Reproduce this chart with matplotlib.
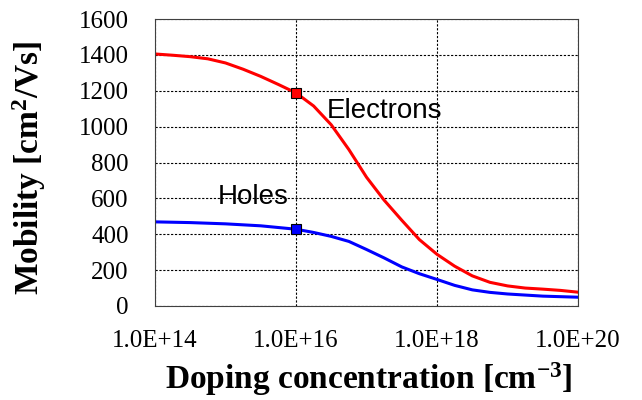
import matplotlib
matplotlib.use('Agg')
import matplotlib.pyplot as plt

plt.rcParams['mathtext.fontset'] = 'custom'
plt.rcParams['mathtext.rm'] = 'Liberation Serif:bold'
plt.rcParams['mathtext.it'] = 'Liberation Serif:bold'
plt.rcParams['mathtext.bf'] = 'Liberation Serif:bold'

# log10 of doping (cm^-3) and mobility (cm2/Vs)
exp_e = [14.0, 14.25, 14.5, 14.75, 15.0, 15.25, 15.5, 15.75, 16.0, 16.25, 16.5,
         16.75, 17.0, 17.25, 17.5, 17.75, 18.0, 18.25, 18.5, 18.75, 19.0,
         19.25, 19.5, 19.75, 20.0]
mu_e = [1405, 1398, 1390, 1378, 1355, 1320, 1280, 1235, 1188, 1115, 1010,
        872, 718, 590, 478, 370, 288, 222, 168, 132, 112, 100, 94, 87, 77]
exp_h = [14.0, 14.5, 15.0, 15.5, 16.0, 16.25, 16.5, 16.75, 17.0, 17.25, 17.5,
         17.75, 18.0, 18.25, 18.5, 18.75, 19.0, 19.5, 20.0]
mu_h = [469, 465, 458, 447, 428, 410, 388, 360, 315, 268, 218, 180, 148,
        115, 90, 76, 67, 55, 49]

marker_exp = 16.0
marker_e = 1188
marker_h = 428

doping_e = [10 ** e for e in exp_e]
doping_h = [10 ** e for e in exp_h]

fig = plt.figure(figsize=(6.42, 4.0), dpi=100)
ax = fig.add_axes([0.2414, 0.235, 0.659, 0.7175])

ax.plot(doping_e, mu_e, color='#ff0000', lw=2.2)
ax.plot(doping_h, mu_h, color='#0000ff', lw=2.2)
ax.plot([10 ** marker_exp], [marker_e], 's', color='#ff0000', mec='black', mew=0.8, ms=7.5)
ax.plot([10 ** marker_exp], [marker_h], 's', color='#0000ff', mec='black', mew=0.8, ms=7.5)

ax.set_xscale('log')
ax.set_xlim(1e14, 1e20)
ax.set_ylim(0, 1600)
ax.set_xticks([1e14, 1e16, 1e18, 1e20])
ax.set_xticklabels(['1.0E+14', '1.0E+16', '1.0E+18', '1.0E+20'])
ax.minorticks_off()
ax.set_yticks(range(0, 1601, 200))
ax.tick_params(axis='y', length=0, labelsize=18, pad=19)
ax.tick_params(axis='x', length=0, labelsize=18, pad=17)
for lab in ax.get_xticklabels() + ax.get_yticklabels():
    lab.set_family('Liberation Serif')

ax.grid(True, color='black', ls=(0, (2, 1.5)), lw=0.8)
for s in ax.spines.values():
    s.set_color('#404040')

ax.set_xlabel('Doping concentration [cm$^{-3}$]', family='Liberation Serif',
              fontweight='bold', fontsize=24)
ax.set_ylabel('Mobility [cm$^{2}$/Vs]', family='Liberation Serif',
              fontweight='bold', fontsize=24)
ax.xaxis.set_label_coords(0.505, -0.19)
ax.yaxis.set_label_coords(-0.253, 0.48)

ax.text(10 ** 16.44, 1048, 'Electrons', family='Liberation Sans', fontsize=20)
ax.text(10 ** 14.89, 569, 'Holes', family='Liberation Sans', fontsize=20)

fig.savefig('out.png', dpi=100)
